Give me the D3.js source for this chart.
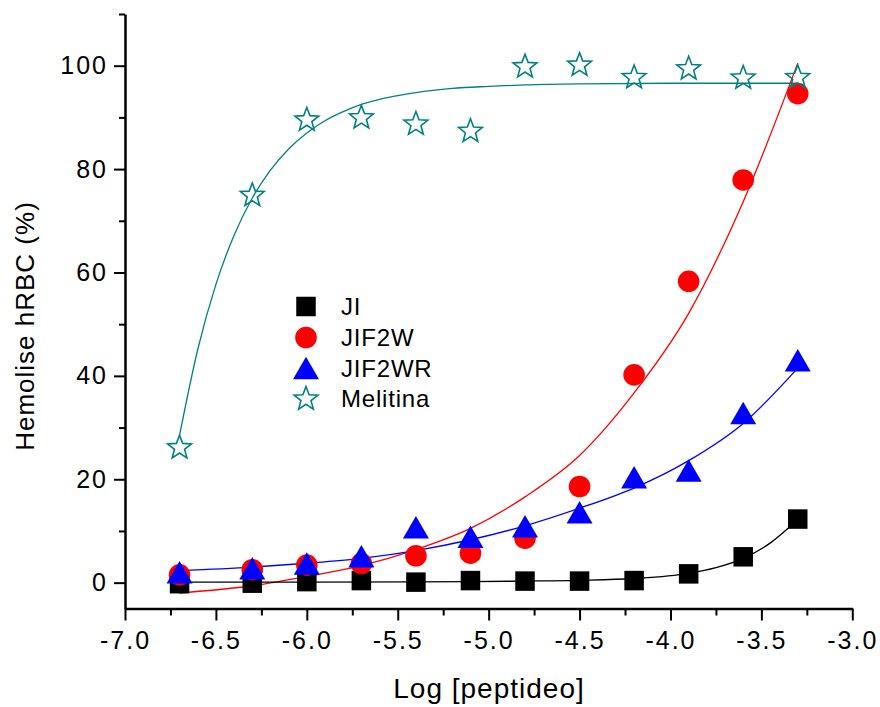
<!DOCTYPE html>
<html><head><meta charset="utf-8">
<script src="https://cdn.jsdelivr.net/npm/d3@7/dist/d3.min.js"></script>
<style>
body{margin:0;background:#fff}
svg{display:block}
text{font-family:"Liberation Sans",Arial,Helvetica,sans-serif;fill:#000}
</style>
</head><body>
<svg id="chart" width="880" height="707"></svg>
<script>
// ---- data ----
const logConc = [-6.7, -6.3, -6.0, -5.7, -5.4, -5.1, -4.8, -4.5, -4.2, -3.9, -3.6, -3.3];
const seriesNames = ["JI", "JIF2W", "JIF2WR", "Melitina"];
const jiValues       = [-0.2, -0.1, 0.2, 0.4, 0.1, 0.4, 0.3, 0.3, 0.4, 1.7, 5.0, 12.3];
const jif2wValues    = [1.5, 2.5, 3.4, 3.7, 5.2, 5.7, 8.6, 18.6, 40.2, 58.3, 77.9, 94.6];
const jif2wrValues   = [2.0, 2.8, 3.7, 5.1, 10.7, 8.9, 10.9, 13.6, 20.4, 21.7, 32.8, 43.0];
const melitinaValues = [26.3, 75.1, 89.7, 90.1, 88.9, 87.5, 100.0, 100.3, 97.9, 99.6, 97.8, 97.9];

// fitted curves
const jiFitX = [-6.7, -6.0, -5.4, -5.1, -4.8, -4.5, -4.2, -3.9, -3.75, -3.6, -3.45, -3.3];
const jiFitY = [0.1, 0.1, 0.15, 0.2, 0.3, 0.45, 0.8, 1.8, 2.9, 4.7, 7.7, 12.2];
const jif2wFitX = [-6.7, -6.3, -6.0, -5.7, -5.4, -5.1, -4.8, -4.5, -4.2, -3.9, -3.6, -3.3];
const jif2wFitY = [-2.0, -0.6, 1.2, 3.3, 6.4, 10.5, 16.6, 24.6, 36.7, 52.1, 73.7, 100.5];
const jif2wrFitX = [-6.7, -6.3, -6.0, -5.7, -5.4, -5.1, -4.8, -4.5, -4.2, -3.9, -3.6, -3.3];
const jif2wrFitY = [2.3, 3.0, 3.75, 4.7, 6.2, 8.3, 11.0, 14.4, 18.3, 23.6, 30.8, 41.5];
const melFitX = [-6.7, -6.6, -6.5, -6.4, -6.3, -6.2, -6.1, -6.0, -5.9, -5.8, -5.7, -5.6, -5.5, -5.4, -5.2, -5.0, -4.8, -4.5, -4.0, -3.3];
const melFitY = [28.5, 45.1, 57.7, 67.2, 74.4, 79.8, 83.9, 87.0, 89.35, 91.1, 92.5, 93.5, 94.2, 94.8, 95.6, 96.0, 96.3, 96.5, 96.6, 96.6];

const xMajorTicks = [-7.0, -6.5, -6.0, -5.5, -5.0, -4.5, -4.0, -3.5, -3.0];
const xMinorTicks = [-6.75, -6.25, -5.75, -5.25, -4.75, -4.25, -3.75, -3.25];
const yMajorTicks = [0, 20, 40, 60, 80, 100];
const yMinorTicks = [10, 30, 50, 70, 90, 110];
const xTitle = "Log [peptideo]";
const yTitle = "Hemolise hRBC (%)";

// ---- drawing ----
const svg = d3.select("#chart");
const x = d3.scaleLinear().domain([-7, -3]).range([125, 852.3]);
const y = d3.scaleLinear().domain([-5, 110]).range([608.5, 14]);

const colors = {JI: "#000000", JIF2W: "#ff0000", JIF2WR: "#0000ff", Melitina: "#008080"};

// axes
const gx = svg.append("g").attr("transform", `translate(0,${y(-5)})`);
gx.call(d3.axisBottom(x).tickValues(xMajorTicks).tickSize(12).tickSizeOuter(0).tickPadding(6)
  .tickFormat(d => d3.format(".1f")(d).replace("\u2212", "-")));
gx.selectAll(".tick text").attr("dy", "0.9em");
const gxMinor = svg.append("g").attr("transform", `translate(0,${y(-5)})`);
gxMinor.call(d3.axisBottom(x).tickValues(xMinorTicks).tickSize(7).tickSizeOuter(0).tickFormat(() => ""));
gxMinor.select(".domain").remove();

const gy = svg.append("g").attr("transform", `translate(${x(-7)},0)`);
gy.call(d3.axisLeft(y).tickValues(yMajorTicks).tickSize(11).tickSizeOuter(0).tickPadding(6));
const gyMinor = svg.append("g").attr("transform", `translate(${x(-7)},0)`);
gyMinor.call(d3.axisLeft(y).tickValues(yMinorTicks).tickSize(6).tickSizeOuter(0).tickFormat(() => ""));
gyMinor.select(".domain").remove();

svg.selectAll(".domain").attr("stroke", "#000").attr("stroke-width", 2.5);
svg.selectAll(".tick line").attr("stroke", "#000").attr("stroke-width", 2);
[gx, gy].forEach(g => g.selectAll(".tick text").attr("font-size", 25)
  .attr("font-family", '"Liberation Sans",Arial,sans-serif')
  .style("letter-spacing", "2px").attr("fill", "#000"));

// titles
svg.append("text").attr("x", 489).attr("y", 698).attr("text-anchor", "middle")
  .attr("font-size", 28).style("letter-spacing", "1px").text(xTitle);
svg.append("text").attr("transform", "translate(34,326) rotate(-90)").attr("text-anchor", "middle")
  .attr("font-size", 26).style("letter-spacing", "1px").text(yTitle);

// fit lines
const line = d3.line().x(d => x(d[0])).y(d => y(d[1])).curve(d3.curveMonotoneX);
const fits = [
  ["Melitina", melFitX, melFitY],
  ["JIF2W", jif2wFitX, jif2wFitY],
  ["JIF2WR", jif2wrFitX, jif2wrFitY],
  ["JI", jiFitX, jiFitY]
];
fits.forEach(([name, xs, ys]) => {
  svg.append("path").datum(xs.map((v, i) => [v, ys[i]]))
    .attr("d", line).attr("fill", "none").attr("stroke", colors[name]).attr("stroke-width", 1.3);
});

// marker shapes
function starPath(R, r) {
  const pts = [];
  for (let i = 0; i < 10; i++) {
    const a = -Math.PI / 2 + i * Math.PI / 5;
    const rr = i % 2 === 0 ? R : r;
    pts.push([rr * Math.cos(a), rr * Math.sin(a)]);
  }
  return "M" + pts.map(p => p[0].toFixed(2) + "," + p[1].toFixed(2)).join("L") + "Z";
}
function drawMarker(g, name, cx, cy) {
  if (name === "JI") {
    g.append("rect").attr("x", cx - 9.75).attr("y", cy - 9.75).attr("width", 19.5).attr("height", 19.5)
      .attr("fill", "#000");
  } else if (name === "JIF2W") {
    g.append("circle").attr("cx", cx).attr("cy", cy).attr("r", 10.8).attr("fill", "#ff0000");
  } else if (name === "JIF2WR") {
    const w = 26, h = 22.5;
    g.append("path").attr("d", `M${cx},${cy - h / 2}L${cx + w / 2},${cy + h / 2}L${cx - w / 2},${cy + h / 2}Z`)
      .attr("fill", "#0000ff");
  } else {
    g.append("path").attr("d", starPath(12.5, 5.3)).attr("transform", `translate(${cx},${cy + 1})`)
      .attr("fill", "none").attr("stroke", "#008080").attr("stroke-width", 1.6).attr("stroke-linejoin", "miter");
  }
}

const seriesValues = {JI: jiValues, JIF2W: jif2wValues, JIF2WR: jif2wrValues, Melitina: melitinaValues};
const markers = svg.append("g");
seriesNames.forEach(name => {
  const g = markers.append("g");
  logConc.forEach((xv, i) => drawMarker(g, name, x(xv), y(seriesValues[name][i])));
});

// legend
const legendY = [306.5, 337.5, 368, 398];
const leg = svg.append("g");
seriesNames.forEach((name, i) => {
  drawMarker(leg, name, 306, legendY[i]);
  leg.append("text").attr("x", 341).attr("y", legendY[i] + 8.7).attr("font-size", 24)
    .style("letter-spacing", "0.8px").text(name);
});
</script>
</body></html>
